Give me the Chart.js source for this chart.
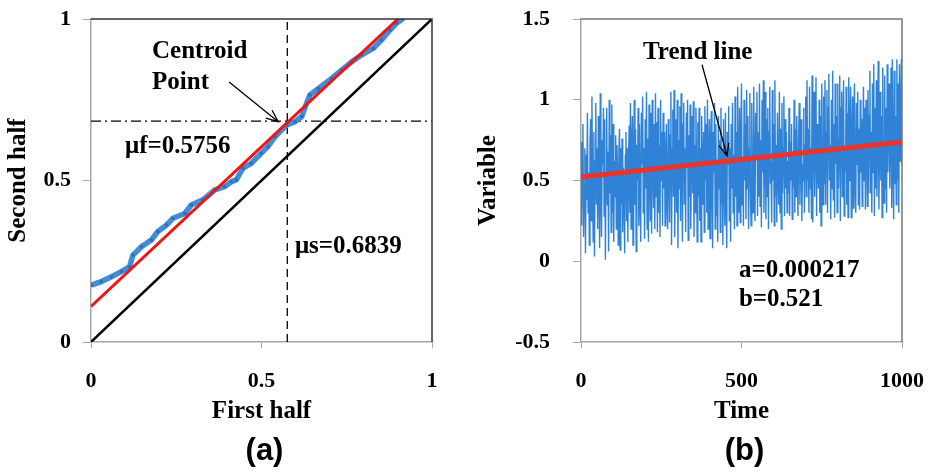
<!DOCTYPE html>
<html>
<head>
<meta charset="utf-8">
<script src="https://cdn.jsdelivr.net/npm/chart.js@4.4.1/dist/chart.umd.min.js"></script>
<style>
  html, body { margin: 0; padding: 0; background: #fff; }
  #wrap { position: relative; width: 937px; height: 475px; overflow: hidden; }
  canvas { position: absolute; top: 0; }
  #chartA { left: 0; }
  #chartB { left: 470px; }
</style>
</head>
<body>
<div id="wrap">
  <canvas id="chartA" width="470" height="475"></canvas>
  <canvas id="chartB" width="467" height="475"></canvas>
</div>
<script>
// ---- panel (a): quantiles, first half vs second half ----
var qqX = [0.001, 0.030, 0.060, 0.089, 0.113, 0.123, 0.148, 0.177, 0.196, 0.221, 0.240, 0.275, 0.294, 0.328, 0.363, 0.392,
           0.412, 0.426, 0.446, 0.470, 0.499, 0.519, 0.540, 0.574, 0.598, 0.618, 0.628, 0.642, 0.667, 0.706, 0.735, 0.765,
           0.794, 0.828, 0.852, 0.877, 0.896, 0.916];
var qqY = [0.176, 0.187, 0.202, 0.218, 0.233, 0.269, 0.295, 0.316, 0.342, 0.362, 0.383, 0.398, 0.424, 0.440, 0.471, 0.481,
           0.496, 0.502, 0.538, 0.553, 0.584, 0.605, 0.636, 0.672, 0.682, 0.698, 0.728, 0.765, 0.785, 0.816, 0.842, 0.868,
           0.889, 0.909, 0.935, 0.966, 0.987, 1.002];
var fitX = [0, 0.9];
var fitY = [0.11, 1.0];
var muF = 0.5756;   // vertical guide (first half centroid)
var muS = 0.6839;   // horizontal guide (second half centroid)
var ticksA = [0, 0.5, 1];

// ---- panel (b): time series with trend line ----
var timeStep = 2;
var series = [
  0.74, 0.22, 0.60, 0.85, 0.15, 0.48, 0.70, 0.05, 0.66, 0.38,
  0.92, 0.30, 0.55, 0.10, 0.72, 0.88, 0.25, 1.02, 0.45, 0.12,
  0.80, 0.03, 0.62, 0.98, 0.35, 0.70, 0.20, 0.90, 0.50, 0.08,
  1.04, 0.40, 0.15, 0.75, 0.60, 0.95, 0.28, 0.88, 0.01, 0.55,
  0.95, 0.35, 0.68, 0.06, 1.00, 0.42, 0.78, 0.18, 0.97, 0.30,
  0.85, 0.12, 0.62, 0.40, 0.78, 0.20, 0.72, 0.55, 0.10, 0.68,
  0.82, 0.07, 0.70, 0.35, 0.76, 0.18, 0.58, 0.45, 0.05, 0.66,
  0.80, 0.25, 0.70, 0.12, 0.60, 0.84, 0.30, 0.98, 0.20, 0.74,
  0.90, 0.10, 0.64, 1.00, 0.35, 0.82, 0.06, 0.72, 0.50, 0.95,
  0.22, 0.85, 0.40, 0.12, 0.92, 0.60, 1.02, 0.30, 0.70, 0.14,
  0.88, 0.45, 1.05, 0.20, 0.76, 0.12, 0.97, 0.55, 0.25, 0.92,
  0.17, 1.00, 0.62, 0.33, 0.85, 0.20, 1.04, 0.40, 0.86, 0.18,
  0.95, 0.30, 0.72, 0.15, 1.00, 0.50, 0.80, 0.22, 0.92, 0.45,
  0.80, 0.22, 0.66, 0.85, 0.35, 0.20, 0.88, 0.55, 0.24, 0.78,
  1.05, 0.10, 0.70, 0.94, 0.40, 1.06, 0.15, 0.60, 0.88, 0.30,
  1.00, 0.08, 0.75, 0.45, 0.96, 0.25, 1.04, 0.55, 0.12, 0.85,
  0.98, 0.35, 0.70, 0.18, 0.92, 0.60, 1.00, 0.13, 0.78, 0.40,
  0.97, 0.20, 0.65, 0.90, 0.42, 0.99, 0.15, 0.72, 0.30, 0.95,
  0.55, 0.12, 0.86, 0.40, 0.95, 0.25, 0.70, 0.12, 0.90, 0.60,
  0.35, 0.80, 0.18, 0.96, 0.50, 0.85, 0.30, 1.00, 0.20, 0.66,
  0.88, 0.14, 0.70, 0.93, 0.40, 0.08, 0.80, 0.55, 0.98, 0.20,
  0.85, 0.28, 0.62, 0.12, 0.90, 0.45, 0.75, 0.18, 0.95, 0.35,
  0.70, 0.10, 0.88, 0.50, 0.22, 0.92, 0.38, 0.08, 0.80, 0.60,
  0.96, 0.25, 0.70, 0.12, 0.85, 0.45, 0.98, 0.30, 0.66, 0.20,
  1.02, 0.40, 0.80, 0.22, 1.08, 0.55, 0.30, 0.95, 0.24, 0.75,
  1.10, 0.35, 0.62, 0.22, 1.00, 0.50, 0.85, 0.26, 1.06, 0.45,
  0.90, 0.20, 0.70, 1.04, 0.38, 0.22, 0.98, 0.60, 0.30, 1.08,
  0.50, 0.25, 0.92, 0.65, 1.05, 0.28, 0.80, 0.40, 1.10, 0.34,
  0.75, 0.21, 1.00, 0.55, 1.12, 0.30, 0.70, 1.05, 0.26, 0.88,
  0.40, 0.95, 0.20, 0.80, 1.08, 0.48, 0.62, 0.24, 1.06, 0.50,
  0.85, 0.22, 1.12, 0.40, 0.72, 0.24, 0.92, 0.55, 0.35, 1.05,
  0.30, 0.82, 0.20, 0.98, 0.42, 0.70, 1.02, 0.28, 0.88, 0.45,
  0.80, 0.30, 0.62, 0.42, 0.95, 0.28, 0.74, 0.50, 0.85, 0.26,
  0.68, 0.45, 1.00, 0.30, 0.82, 0.40, 0.90, 0.55, 0.28, 0.78,
  0.98, 0.35, 0.70, 0.88, 0.25, 0.60, 0.50, 0.95, 0.30, 0.72,
  1.02, 0.40, 1.12, 0.50, 0.82, 0.30, 1.08, 0.45, 0.70, 0.26,
  1.15, 0.24, 0.90, 1.05, 0.40, 0.75, 1.14, 0.28, 0.85, 0.55,
  0.45, 1.00, 0.30, 0.90, 0.22, 1.10, 0.60, 0.35, 1.02, 0.48,
  1.12, 0.35, 0.80, 1.06, 0.30, 0.95, 1.16, 0.50, 0.72, 0.26,
  1.00, 0.45, 1.18, 0.38, 0.85, 0.27, 1.10, 0.60, 0.90, 0.30,
  1.10, 0.45, 0.75, 1.15, 0.25, 0.95, 1.05, 0.40, 0.80, 1.12,
  0.28, 0.70, 0.55, 1.08, 0.35, 0.92, 0.27, 1.14, 0.50, 0.85,
  1.08, 0.27, 0.78, 1.02, 0.33, 0.95, 1.10, 0.45, 0.30, 0.98,
  0.60, 1.05, 0.35, 0.82, 0.32, 1.00, 0.55, 0.88, 0.34, 0.75,
  1.08, 0.50, 0.95, 0.32, 1.00, 0.70, 0.34, 1.06, 0.42, 0.90,
  1.18, 0.42, 0.80, 0.30, 1.10, 0.55, 1.22, 0.28, 0.95, 0.45,
  1.12, 0.40, 0.85, 1.24, 0.32, 0.70, 1.05, 0.50, 0.90, 0.27,
  1.20, 0.60, 0.36, 1.15, 0.45, 0.95, 0.30, 1.22, 0.55, 0.85,
  1.10, 0.45, 0.75, 1.20, 0.33, 1.25, 0.60, 0.26, 1.18, 0.48,
  0.90, 0.35, 1.25, 0.50, 1.10, 0.30, 1.22, 0.62, 0.95, 1.25,
  0.60
];
var trendX = [0, 1000];
var trendY = [0.521, 0.738];
var ticksB = [0, 500, 1000];
var ticksBy = [-0.5, 0, 0.5, 1, 1.5];

var SERIF = '"Liberation Serif", "Times New Roman", serif';
var SANS = '"Liberation Sans", Arial, sans-serif';
var tickFont = { family: SERIF, size: 22, weight: 'bold' };
var titleFont = { family: SERIF, size: 25, weight: 'bold' };
var noteFont = 'bold 25px ' + SERIF;
var AXIS_GRAY = '#a6a6a6';

function pairs(xs, ys) {
  return xs.map(function (x, i) { return { x: x, y: ys[i] }; });
}

function drawArrow(ctx, x0, y0, x1, y1) {
  var ang = Math.atan2(y1 - y0, x1 - x0);
  var len = 13, spread = 0.4;
  ctx.save();
  ctx.strokeStyle = '#000';
  ctx.lineWidth = 1.3;
  ctx.beginPath();
  ctx.moveTo(x0, y0);
  ctx.lineTo(x1, y1);
  ctx.moveTo(x1 - len * Math.cos(ang - spread), y1 - len * Math.sin(ang - spread));
  ctx.lineTo(x1, y1);
  ctx.lineTo(x1 - len * Math.cos(ang + spread), y1 - len * Math.sin(ang + spread));
  ctx.stroke();
  ctx.restore();
}

// frame lines on top and right, plus the notes and panel letter
function makeNotes(notes, arrow, letter, frameColor) {
  return {
    id: 'notes',
    afterDraw: function (chart) {
      var ctx = chart.ctx, a = chart.chartArea;
      var sx = chart.scales.x, sy = chart.scales.y;
      ctx.save();
      ctx.strokeStyle = frameColor;
      ctx.lineWidth = 1.5;
      ctx.beginPath();
      ctx.moveTo(a.left, a.top);
      ctx.lineTo(a.right, a.top);
      ctx.lineTo(a.right, a.bottom);
      ctx.stroke();

      ctx.fillStyle = '#000';
      ctx.font = noteFont;
      ctx.textAlign = 'left';
      ctx.textBaseline = 'middle';
      notes.forEach(function (n) {
        ctx.fillText(n.text, sx.getPixelForValue(n.x), sy.getPixelForValue(n.y));
      });
      drawArrow(ctx, sx.getPixelForValue(arrow[0]), sy.getPixelForValue(arrow[1]),
                sx.getPixelForValue(arrow[2]), sy.getPixelForValue(arrow[3]));

      ctx.font = 'bold 31px ' + SANS;
      ctx.textAlign = 'center';
      ctx.fillText(letter, (a.left + a.right) / 2 + 3, 451);
      ctx.restore();
    }
  };
}

function noPad(s) {
  s.paddingLeft = 0; s.paddingRight = 0; s.paddingTop = 0; s.paddingBottom = 0;
}

function axisX(ticks, title, titlePad, labelPad) {
  return {
    type: 'linear',
    min: ticks[0],
    max: ticks[ticks.length - 1],
    afterBuildTicks: function (s) { s.ticks = ticks.map(function (v) { return { value: v }; }); },
    afterFit: function (s) { s.height = 133; noPad(s); },
    ticks: { font: tickFont, color: '#000', padding: labelPad, maxRotation: 0,
             callback: function (v) { return String(v); } },
    grid: { drawOnChartArea: false, drawTicks: true, tickLength: 6, color: AXIS_GRAY },
    border: { color: AXIS_GRAY, width: 1.5 },
    title: { display: true, text: title, font: titleFont, color: '#000', padding: { top: 0, bottom: titlePad } }
  };
}

function axisY(ticks, title, width, labelPad) {
  return {
    type: 'linear',
    min: ticks[0],
    max: ticks[ticks.length - 1],
    afterBuildTicks: function (s) { s.ticks = ticks.map(function (v) { return { value: v }; }); },
    afterFit: function (s) { s.width = width; noPad(s); },
    ticks: { font: tickFont, color: '#000', padding: labelPad,
             callback: function (v) { return String(v); } },
    grid: { drawOnChartArea: false, drawTicks: true, tickLength: 8, color: AXIS_GRAY },
    border: { color: AXIS_GRAY, width: 1.5 },
    title: { display: true, text: title, font: titleFont, color: '#000', padding: { top: 4, bottom: 0 } }
  };
}

new Chart(document.getElementById('chartA'), {
  type: 'scatter',
  data: {
    datasets: [
      { label: 'Fit', data: pairs(fitX, fitY), showLine: true, borderColor: '#f21414', borderWidth: 3, pointRadius: 0, order: 1 },
      { label: 'Quantiles', data: pairs(qqX, qqY), showLine: true, borderColor: '#448cd6', borderWidth: 5.5,
        pointRadius: 1.8, pointBackgroundColor: '#2b70bb', pointBorderWidth: 0, order: 2 },
      { label: 'Equal', data: pairs([0, 1], [0, 1]), showLine: true, borderColor: '#000', borderWidth: 2.5, pointRadius: 0, order: 3 },
      { label: 'muF', data: pairs([muF, muF], [0, 1]), showLine: true, borderColor: '#000', borderWidth: 1.3, borderDash: [8, 5], pointRadius: 0, order: 4 },
      { label: 'muS', data: pairs([0, 1], [muS, muS]), showLine: true, borderColor: '#000', borderWidth: 1.3, borderDash: [10, 4, 2, 4], pointRadius: 0, order: 5 }
    ]
  },
  options: {
    responsive: false,
    animation: false,
    layout: { padding: { left: 0, top: 19, right: 38, bottom: 0 } },
    plugins: { legend: { display: false }, tooltip: { enabled: false } },
    scales: {
      x: axisX(ticksA, 'First half', 48, 20),
      y: axisY(ticksA, 'Second half', 91, 12)
    }
  },
  plugins: [makeNotes([
    { text: 'Centroid', x: 0.179, y: 0.898 },
    { text: 'Point', x: 0.179, y: 0.802 },
    { text: '\u03bcf=0.5756', x: 0.100, y: 0.604 },
    { text: '\u03bcs=0.6839', x: 0.598, y: 0.294 }
  ], [0.405, 0.805, 0.549, 0.682], '(a)', '#333')]
});

new Chart(document.getElementById('chartB'), {
  type: 'scatter',
  data: {
    datasets: [
      { label: 'Trend', data: pairs(trendX, trendY), showLine: true, borderColor: '#e8342c', borderWidth: 5, pointRadius: 0, order: 1 },
      { label: 'Variable', data: series.map(function (v, i) { return { x: i * timeStep, y: v }; }), showLine: true,
        borderColor: '#2f82d6', borderWidth: 1.4, pointRadius: 0, order: 2 }
    ]
  },
  options: {
    responsive: false,
    animation: false,
    layout: { padding: { left: 0, top: 19, right: 35, bottom: 0 } },
    plugins: { legend: { display: false }, tooltip: { enabled: false } },
    scales: {
      x: axisX(ticksB, 'Time', 48, 20),
      y: axisY(ticksBy, 'Variable', 111, 23)
    }
  },
  plugins: [makeNotes([
    { text: 'Trend line', x: 193, y: 1.291 },
    { text: 'a=0.000217', x: 492, y: -0.059 },
    { text: 'b=0.521', x: 492, y: -0.238 }
  ], [377, 1.217, 455, 0.653], '(b)', '#777')]
});
</script>
</body>
</html>
